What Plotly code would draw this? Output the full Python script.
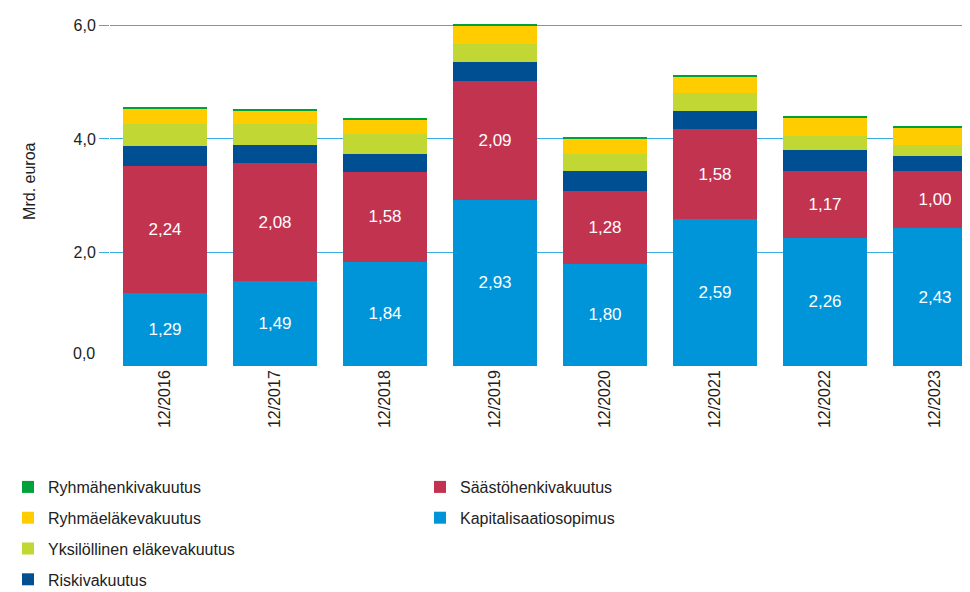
import plotly.graph_objects as go

years = ["12/2016", "12/2017", "12/2018", "12/2019", "12/2020", "12/2021", "12/2022", "12/2023"]
kapitalisaatio = [1.29, 1.49, 1.84, 2.93, 1.80, 2.59, 2.26, 2.43]
saasto = [2.24, 2.08, 1.58, 2.09, 1.28, 1.58, 1.17, 1.00]
riski = [0.34, 0.33, 0.31, 0.33, 0.35, 0.33, 0.38, 0.27]
yksilollinen = [0.39, 0.36, 0.36, 0.32, 0.30, 0.31, 0.25, 0.19]
ryhmaelake = [0.27, 0.24, 0.25, 0.33, 0.28, 0.29, 0.31, 0.31]
ryhmahenki = [0.04, 0.03, 0.03, 0.03, 0.02, 0.02, 0.02, 0.02]

FONT = "Liberation Sans, Arial, sans-serif"
fig = go.Figure()

def add(name, vals, color, legend, rank, labels=False):
    kw = {}
    if labels:
        kw = dict(texttemplate="%{y:.2f}", textposition="inside", insidetextanchor="middle",
                  textangle=0, constraintext="none",
                  textfont=dict(color="white", size=17, family=FONT))
    fig.add_trace(go.Bar(x=years, y=vals, name=name, marker=dict(color=color, line=dict(width=0)),
                         legend=legend, legendgroup=name, legendrank=rank,
                         hoverinfo="skip", cliponaxis=True, **kw))

add("Kapitalisaatiosopimus", kapitalisaatio, "#0095d9", "legend2", 2, True)
add("Säästöhenkivakuutus", saasto, "#c1334f", "legend2", 1, True)
add("Riskivakuutus", riski, "#004f93", "legend", 4)
add("Yksilöllinen eläkevakuutus", yksilollinen, "#c1d733", "legend", 3)
add("Ryhmäeläkevakuutus", ryhmaelake, "#ffcc00", "legend", 2)
add("Ryhmähenkivakuutus", ryhmahenki, "#00a13a", "legend", 1)

fig.add_annotation(x=0, y=0, xref="paper", yref="y", text="0,0", showarrow=False,
                   xanchor="right", xshift=-13, yshift=13, font=dict(size=16, color="#222", family=FONT))
fig.add_annotation(x=(22-102)/860, y=0.523, xref="paper", yref="paper", text="Mrd. euroa",
                   showarrow=False, textangle=-90, xanchor="center", yanchor="middle",
                   font=dict(size=16, color="#222", family=FONT))

leg = dict(orientation="v", xref="container", yref="container", xanchor="left", yanchor="top",
           traceorder="grouped", tracegroupgap=7,
           font=dict(size=16, color="#222", family=FONT), bgcolor="rgba(0,0,0,0)",
           itemclick=False, itemdoubleclick=False)

fig.update_layout(
    width=970, height=592,
    margin=dict(l=102, r=8, t=6, b=234, autoexpand=False),
    barmode="stack", bargap=0.245,
    separators=",.",
    plot_bgcolor="white", paper_bgcolor="white",
    font=dict(family=FONT, size=16, color="#222"),
    showlegend=True,
    legend=dict(leg, x=0/970, y=1-462/592),
    legend2=dict(leg, x=412/970, y=1-462/592),
    xaxis=dict(range=[-0.5, 7.318], tickangle=-90, showgrid=False, showline=False, ticks="",
               tickfont=dict(size=16, color="#222")),
    yaxis=dict(range=[0, 6.2], tickvals=[2, 4, 6], ticktext=["2,0", "4,0", "6,0"],
               showgrid=True, gridcolor="#3aaee0", gridwidth=1, zeroline=False,
               ticks="outside", ticklen=10, tickcolor="#3aaee0", showline=False,
               tickfont=dict(size=16, color="#222")),
)

fig.write_html("out.html")
